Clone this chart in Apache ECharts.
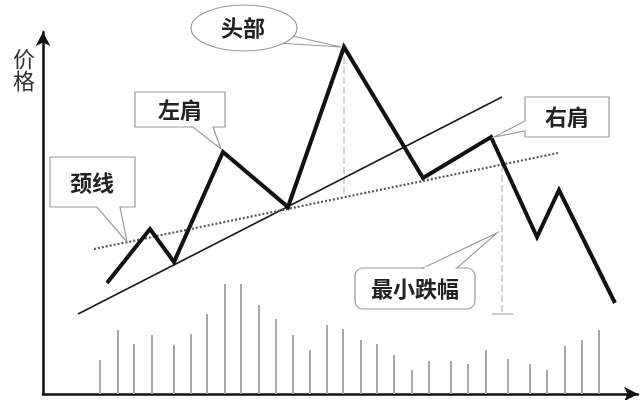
<!DOCTYPE html>
<html><head><meta charset="utf-8">
<script src="https://cdn.jsdelivr.net/npm/echarts@6/dist/echarts.min.js"></script>
<style>html,body{margin:0;padding:0;background:#fff}#c{width:640px;height:400px}</style>
</head><body><div id="c"></div>
<script>
// x: time units from the price axis, y: price / volume units above the time axis
const priceX = [64, 107, 131, 180, 245, 301, 380, 448, 494, 516, 572];
const priceY = [111, 165, 132, 242, 187, 347, 216, 257, 157, 204, 91];
const trendX = [35, 459];
const trendY = [80, 297];
const neckX = [51, 515];
const neckY = [145, 241];
const headDropX = [301, 301];
const headDropY = [347, 200];
const targetX = [459, 459];
const targetY = [229, 80];
const targetTickX = [449, 470];
const targetTickY = [80, 80];
const volX = [57, 75, 91, 109, 131, 148, 164, 182, 198, 216, 233, 250, 267, 284, 300, 318, 334, 351, 369, 386, 408, 425, 443, 465, 487, 504, 522, 539, 556];
const volY = [34, 64, 50, 59, 49, 60, 80, 110, 110, 89, 75, 59, 44, 69, 65, 54, 50, 39, 24, 33, 33, 30, 44, 35, 30, 24, 48, 54, 64];
const labels = { y: '价格', head: '头部', left: '左肩', right: '右肩', neck: '颈线', drop: '最小跌幅' };

const zip = (a, b) => a.map((v, i) => [v, b[i]]);
const font = '"Noto Sans CJK SC", sans-serif';
const chart = echarts.init(document.getElementById('c'));
chart.setOption({
  animation: false,
  backgroundColor: '#fff',
  grid: { left: 43, right: 2, top: 32, bottom: 6 },
  xAxis: { type: 'value', min: 0, max: 595, axisLine: { show: true, symbol: ['none', 'arrow'], symbolSize: [11, 14], lineStyle: { color: '#111', width: 2.5 } }, axisTick: { show: false }, axisLabel: { show: false }, splitLine: { show: false } },
  yAxis: { type: 'value', min: 0, max: 362, axisLine: { show: true, symbol: ['none', 'arrow'], symbolSize: [11, 14], lineStyle: { color: '#111', width: 2.5 } }, axisTick: { show: false }, axisLabel: { show: false }, splitLine: { show: false } },
  series: [
    { type: 'bar', data: zip(volX, volY), barWidth: 2, itemStyle: { color: '#a8a8a8' }, z: 1 },
    { type: 'line', data: zip(trendX, trendY), symbol: 'none', lineStyle: { color: '#1a1a1a', width: 1.6 }, z: 3 },
    { type: 'line', data: zip(neckX, neckY), symbol: 'none', lineStyle: { color: '#555', width: 2.2, type: [2, 2] }, z: 3 },
    { type: 'line', data: zip(headDropX, headDropY), symbol: 'none', lineStyle: { color: '#b5b5b5', width: 1, type: [7, 3] }, z: 2 },
    { type: 'line', data: zip(targetX, targetY), symbol: 'none', lineStyle: { color: '#aaa', width: 1, type: [7, 3] }, z: 2 },
    { type: 'line', data: zip(targetTickX, targetTickY), symbol: 'none', lineStyle: { color: '#999', width: 1.2 }, z: 2 },
    { type: 'line', data: zip(priceX, priceY), symbol: 'none', lineStyle: { color: '#111', width: 4, join: 'miter' }, z: 4 }
  ]
});

const txt = (t, x, y) => ({ type: 'text', x: x, y: y, z: 20, style: { text: t, font: 'bold 22px ' + font, fill: '#222', align: 'center', verticalAlign: 'middle' } });
const poly = (pts, z) => ({ type: 'polygon', z: z || 15, shape: { points: pts }, style: { fill: '#fff', stroke: '#9a9a9a', lineWidth: 1.2 } });
const tip = (i) => chart.convertToPixel({ gridIndex: 0 }, [priceX[i], priceY[i]]);
const lt = tip(3), hd = tip(5), rs = tip(7);
const neckTip = chart.convertToPixel({ gridIndex: 0 }, [84, 152]);
const dropTip = chart.convertToPixel({ gridIndex: 0 }, [454, 161]);

chart.setOption({
  graphic: [
    { type: 'text', x: 24, y: 59, z: 20, style: { text: labels.y[0], font: '22px ' + font, fill: '#333', align: 'center', verticalAlign: 'middle' } },
    { type: 'text', x: 24, y: 81, z: 20, style: { text: labels.y[1], font: '22px ' + font, fill: '#333', align: 'center', verticalAlign: 'middle' } },
    // head callout
    poly([[284, 34], [hd[0] - 3, hd[1]], [278, 43]], 14),
    { type: 'ellipse', z: 15, shape: { cx: 244, cy: 28, rx: 53, ry: 23 }, style: { fill: '#fff', stroke: '#9a9a9a', lineWidth: 1.2 } },
    txt(labels.head, 243, 28),
    // left shoulder
    poly([[135, 92], [225, 92], [225, 127], [213, 127], [lt[0] - 2, lt[1] - 3], [193, 127], [135, 127]]),
    txt(labels.left, 180, 110),
    // neckline
    poly([[50, 157], [135, 157], [135, 207], [120, 207], [neckTip[0], neckTip[1]], [97, 207], [50, 207]]),
    txt(labels.neck, 92, 183),
    // right shoulder
    poly([[525, 97], [609, 97], [609, 137], [525, 137], [525, 131], [rs[0] + 3, rs[1]], [525, 121]]),
    txt(labels.right, 567, 117),
    // minimum drop
    { type: 'rect', z: 15, shape: { x: 355, y: 268, width: 120, height: 41, r: 8 }, style: { fill: '#fff', stroke: '#9a9a9a', lineWidth: 1.2 } },
    poly([[423, 268], [dropTip[0], dropTip[1]], [457, 268]], 16),
    { type: 'line', z: 17, shape: { x1: 424.5, y1: 268, x2: 455.5, y2: 268 }, style: { stroke: '#fff', lineWidth: 2.5 } },
    txt(labels.drop, 415, 289)
  ]
});
</script></body></html>
